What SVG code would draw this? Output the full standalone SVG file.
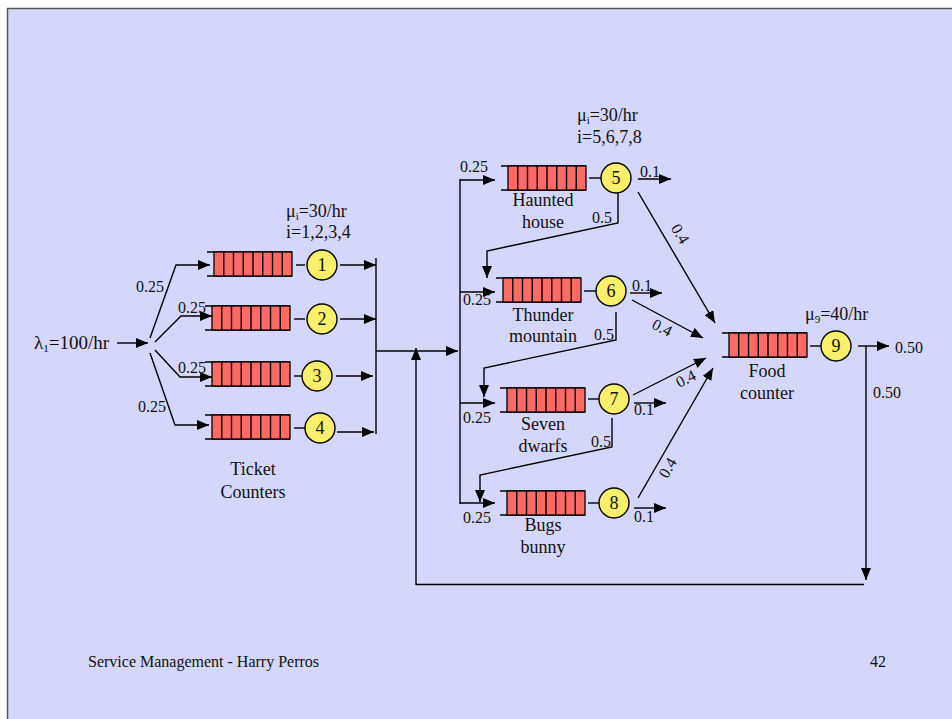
<svg xmlns="http://www.w3.org/2000/svg" xmlns:xlink="http://www.w3.org/1999/xlink" width="952" height="719" viewBox="0 0 952 719">
  <style>
    text { font-family: "Liberation Serif", "Times New Roman", serif; fill: #111; }
    .lbl { font-size: 18px; }
    .mid { text-anchor: middle; }
    .p { font-size: 16px; }
    .r { font-size: 16px; }
    .foot { font-size: 16px; }
    .num { font-size: 18px; text-anchor: middle; }
    .ln { stroke: #000; stroke-width: 1.4; fill: none; }
    .arr { stroke: #000; stroke-width: 1.4; fill: none; marker-end: url(#ah); }
    .srv { fill: #f8ef6a; stroke: #000; stroke-width: 1.4; }
    .qbox { fill: #ff6a64; stroke: #000; stroke-width: 1.3; }
    .sub { font-size: 11px; }
  </style>
  <defs>
    <marker id="ah" markerUnits="userSpaceOnUse" markerWidth="12" markerHeight="10" refX="12" refY="5" orient="auto">
      <path d="M0,0 L12,5 L0,10 z" fill="#000"/>
    </marker>
    <!-- queue buffer: open-ended bracket with eight cells -->
    <g id="queue">
      <line x1="-7" y1="0" x2="78" y2="0" class="ln"/>
      <line x1="-7" y1="24" x2="78" y2="24" class="ln"/>
      <rect x="0" y="0" width="78" height="24" class="qbox"/>
      <path d="M9.75,0V24M19.5,0V24M29.25,0V24M39,0V24M48.75,0V24M58.5,0V24M68.25,0V24" class="ln" stroke-width="1.1"/>
    </g>
  </defs>

  <!-- slide background -->
  <rect x="0" y="0" width="952" height="719" fill="#ffffff"/>
  <rect x="8" y="9" width="944" height="710" fill="#d5d6fc"/>
  <line x1="7" y1="8.5" x2="952" y2="8.5" stroke="#555" stroke-width="1.5"/>
  <line x1="7.5" y1="8" x2="7.5" y2="719" stroke="#555" stroke-width="1.5"/>

  <!-- connectors -->
  <g id="connectors">
    <!-- arrivals and split to ticket counters -->
    <line x1="117" y1="343" x2="148" y2="343" class="arr"/>
    <polyline points="150,338 176,265 210,265" class="arr"/>
    <polyline points="155,342 181,316 212,316" class="arr"/>
    <polyline points="155,350 180,377 212,377" class="arr"/>
    <polyline points="150,353 175,425 209,425" class="arr"/>
    <!-- ticket counters to collector -->
    <line x1="340" y1="265" x2="376" y2="265" class="arr"/>
    <line x1="340" y1="319" x2="376" y2="319" class="arr"/>
    <line x1="336" y1="376" x2="373" y2="376" class="arr"/>
    <line x1="337" y1="432" x2="374" y2="432" class="arr"/>
    <line x1="376" y1="258" x2="376" y2="434" class="ln"/>
    <line x1="376" y1="351" x2="458" y2="351" class="arr"/>
    <!-- distribution to rides -->
    <line x1="460" y1="179" x2="460" y2="504" class="ln"/>
    <line x1="460" y1="180" x2="495" y2="180" class="arr"/>
    <line x1="460" y1="292" x2="495" y2="292" class="arr"/>
    <line x1="460" y1="403" x2="495" y2="403" class="arr"/>
    <line x1="460" y1="503" x2="495" y2="503" class="arr"/>
    <!-- ride to ride feedback (0.5) -->
    <polyline points="618,193 618,223 487,251 487,278" class="arr"/>
    <polyline points="616,312 616,340 484,368 484,397" class="arr"/>
    <polyline points="612,418 612,447 480,475 480,502" class="arr"/>
    <!-- departures (0.1) -->
    <line x1="638" y1="179" x2="671" y2="179" class="arr"/>
    <line x1="630" y1="293" x2="662" y2="293" class="arr"/>
    <line x1="634" y1="403" x2="666" y2="403" class="arr"/>
    <line x1="634" y1="508" x2="666" y2="508" class="arr"/>
    <!-- rides to food counter (0.4) -->
    <line x1="638" y1="192" x2="715" y2="323" class="arr"/>
    <line x1="632" y1="300" x2="703" y2="338" class="arr"/>
    <line x1="633" y1="395" x2="706" y2="358" class="arr"/>
    <line x1="638" y1="498" x2="713" y2="368" class="arr"/>
    <!-- food counter outputs -->
    <line x1="858" y1="346" x2="889" y2="346" class="arr"/>
    <line x1="866" y1="346" x2="866" y2="580" class="arr"/>
    <line x1="416" y1="584.5" x2="864" y2="584.5" class="ln"/>
    <line x1="416" y1="585" x2="416" y2="348" class="arr"/>

    <!-- branch probabilities -->
    <text x="136" y="292" class="p">0.25</text>
    <text x="178" y="313" class="p">0.25</text>
    <text x="178" y="373" class="p">0.25</text>
    <text x="138" y="412" class="p">0.25</text>
    <text x="460" y="172" class="p">0.25</text>
    <text x="463" y="305" class="p">0.25</text>
    <text x="463" y="423" class="p">0.25</text>
    <text x="463" y="523" class="p">0.25</text>
    <text x="592" y="223" class="p">0.5</text>
    <text x="594" y="340" class="p">0.5</text>
    <text x="591" y="447" class="p">0.5</text>
    <text x="640" y="177" class="p">0.1</text>
    <text x="632" y="291" class="p">0.1</text>
    <text x="634" y="415" class="p">0.1</text>
    <text x="634" y="522" class="p">0.1</text>
    <text class="p mid" transform="translate(680,234) rotate(59.5)" y="5">0.4</text>
    <text class="p mid" transform="translate(662,328) rotate(28)" y="5">0.4</text>
    <text class="p mid" transform="translate(686,379) rotate(-27)" y="5">0.4</text>
    <text class="p mid" transform="translate(668,468) rotate(-60)" y="5">0.4</text>
    <text x="895" y="353" class="r">0.50</text>
    <text x="873" y="398" class="r">0.50</text>
  </g>

  <!-- arrival rate -->
  <g id="arrivals">
    <text x="34" y="349" class="lbl" font-size="19" style="font-size:19px">λ<tspan class="sub" dy="3">1</tspan><tspan dy="-3">=100/hr</tspan></text>
  </g>

  <!-- ticket counters -->
  <g id="ticket-rate">
    <text x="286" y="217" class="lbl">μ<tspan class="sub" dy="3">i</tspan><tspan dy="-3">=30/hr</tspan></text>
    <text x="286" y="238" class="lbl">i=1,2,3,4</text>
  </g>
  <g id="node1">
    <use xlink:href="#queue" x="214" y="252"/>
    <line x1="296" y1="265" x2="305" y2="265" class="ln"/>
    <circle cx="322" cy="265" r="15" class="srv"/>
    <text x="322" y="271" class="num">1</text>
  </g>
  <g id="node2">
    <use xlink:href="#queue" x="212" y="306"/>
    <line x1="294" y1="319" x2="305" y2="319" class="ln"/>
    <circle cx="322" cy="319" r="15" class="srv"/>
    <text x="322" y="325" class="num">2</text>
  </g>
  <g id="node3">
    <use xlink:href="#queue" x="212" y="362"/>
    <line x1="294" y1="376" x2="302" y2="376" class="ln"/>
    <circle cx="317" cy="376" r="15" class="srv"/>
    <text x="317" y="382" class="num">3</text>
  </g>
  <g id="node4">
    <use xlink:href="#queue" x="212" y="415"/>
    <line x1="294" y1="428" x2="305" y2="428" class="ln"/>
    <circle cx="320" cy="428" r="15" class="srv"/>
    <text x="320" y="434" class="num">4</text>
  </g>
  <g id="ticket-label">
    <text x="253" y="475" class="lbl mid">Ticket</text>
    <text x="253" y="498" class="lbl mid">Counters</text>
  </g>

  <!-- rides -->
  <g id="ride-rate">
    <text x="577" y="121" class="lbl">μ<tspan class="sub" dy="3">i</tspan><tspan dy="-3">=30/hr</tspan></text>
    <text x="577" y="143" class="lbl">i=5,6,7,8</text>
  </g>
  <g id="node5">
    <use xlink:href="#queue" x="508" y="166"/>
    <line x1="589" y1="178" x2="601" y2="178" class="ln"/>
    <circle cx="616" cy="178" r="15" class="srv"/>
    <text x="616" y="184" class="num">5</text>
    <text x="543" y="206" class="lbl mid">Haunted</text>
    <text x="543" y="228" class="lbl mid">house</text>
  </g>
  <g id="node6">
    <use xlink:href="#queue" x="503" y="278"/>
    <line x1="584" y1="291" x2="596" y2="291" class="ln"/>
    <circle cx="611" cy="291" r="15" class="srv"/>
    <text x="611" y="297" class="num">6</text>
    <text x="543" y="321" class="lbl mid">Thunder</text>
    <text x="543" y="342" class="lbl mid">mountain</text>
  </g>
  <g id="node7">
    <use xlink:href="#queue" x="507" y="388"/>
    <line x1="588" y1="399" x2="599" y2="399" class="ln"/>
    <circle cx="614" cy="399" r="15" class="srv"/>
    <text x="614" y="405" class="num">7</text>
    <text x="543" y="430" class="lbl mid">Seven</text>
    <text x="543" y="452" class="lbl mid">dwarfs</text>
  </g>
  <g id="node8">
    <use xlink:href="#queue" x="507" y="491"/>
    <line x1="588" y1="503" x2="599" y2="503" class="ln"/>
    <circle cx="614" cy="503" r="15" class="srv"/>
    <text x="614" y="509" class="num">8</text>
    <text x="543" y="531" class="lbl mid">Bugs</text>
    <text x="543" y="553" class="lbl mid">bunny</text>
  </g>

  <!-- food counter -->
  <g id="node9">
    <text x="805" y="320" class="lbl">μ<tspan class="sub" dy="3">9</tspan><tspan dy="-3">=40/hr</tspan></text>
    <use xlink:href="#queue" x="729" y="333"/>
    <line x1="810" y1="346" x2="821" y2="346" class="ln"/>
    <circle cx="836" cy="346" r="15" class="srv"/>
    <text x="836" y="352" class="num">9</text>
    <text x="767" y="377" class="lbl mid">Food</text>
    <text x="767" y="399" class="lbl mid">counter</text>
  </g>

  <!-- footer -->
  <g id="footer">
    <text x="88" y="667" class="foot">Service Management - Harry Perros</text>
    <text x="870" y="667" class="foot">42</text>
  </g>
</svg>
